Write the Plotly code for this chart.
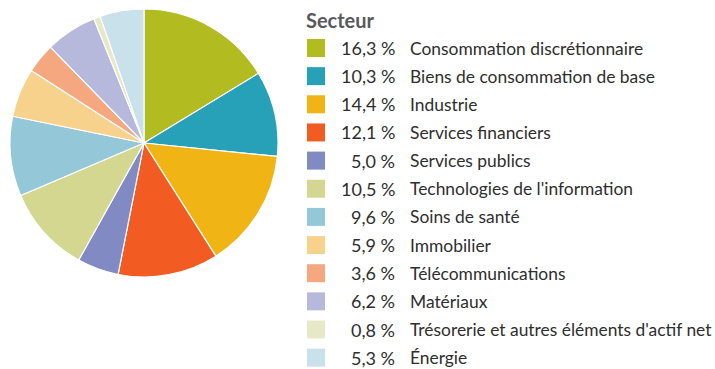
import plotly.graph_objects as go

# Sector allocation (percent of net assets)
sectors = [
    "Consommation discrétionnaire",
    "Biens de consommation de base",
    "Industrie",
    "Services financiers",
    "Services publics",
    "Technologies de l'information",
    "Soins de santé",
    "Immobilier",
    "Télécommunications",
    "Matériaux",
    "Trésorerie et autres éléments d'actif net",
    "Énergie",
]
weights = [16.3, 10.3, 14.4, 12.1, 5.0, 10.5, 9.6, 5.9, 3.6, 6.2, 0.8, 5.3]
colors = [
    "#B2BB20", "#27A1B7", "#F0B414", "#F25C22", "#818AC2", "#D4D78F",
    "#94C8D8", "#F7D28D", "#F5A77F", "#B7B9DC", "#E6E8C6", "#C8E1EA",
]
legend_title = "Secteur"

W, H = 715, 369
FONT = "Lato, Open Sans, sans-serif"
TEXT = "#2E2E2E"


def px(x):
    return x / W


def py(y):
    return 1 - y / H


fig = go.Figure()

# Pie: centre (144, 143), radius 134 px
cx, cy, r = 144, 143, 134
fig.add_trace(go.Pie(
    labels=sectors,
    values=weights,
    sort=False,
    direction="clockwise",
    rotation=0,
    marker=dict(colors=colors, line=dict(color="white", width=1.2)),
    textinfo="none",
    hovertemplate="%{label}<br>%{value:.1f} %<extra></extra>",
    domain=dict(x=[px(cx - r), px(cx + r)], y=[py(cy + r), py(cy - r)]),
    showlegend=False,
))

# Hand-built legend: swatch, right-aligned percentage, label
row0, step = 48, 28.15
swatch_x0, swatch = 307, 18
pct_right, label_left = 397, 408

shapes = []
annotations = [dict(
    x=px(swatch_x0 - 3), y=py(20), xref="paper", yref="paper",
    xanchor="left", yanchor="middle", showarrow=False,
    text=f"<b>{legend_title}</b>",
    font=dict(family=FONT, size=20, color="#58595B"),
)]
for i, (name, val, col) in enumerate(zip(sectors, weights, colors)):
    yc = row0 + i * step
    shapes.append(dict(
        type="rect", xref="paper", yref="paper",
        x0=px(swatch_x0), x1=px(swatch_x0 + swatch),
        y0=py(yc + swatch / 2), y1=py(yc - swatch / 2),
        fillcolor=col, line=dict(width=0),
    ))
    annotations.append(dict(
        x=px(pct_right), y=py(yc), xref="paper", yref="paper",
        xanchor="right", yanchor="middle", showarrow=False,
        text=f"{val:.1f}".replace(".", ",") + " %",
        font=dict(family=FONT, size=18, color=TEXT),
    ))
    annotations.append(dict(
        x=px(label_left), y=py(yc), xref="paper", yref="paper",
        xanchor="left", yanchor="middle", showarrow=False,
        text=name,
        font=dict(family=FONT, size=17.4, color=TEXT),
    ))

fig.update_layout(
    width=W, height=H,
    margin=dict(l=0, r=0, t=0, b=0),
    paper_bgcolor="white", plot_bgcolor="white",
    shapes=shapes, annotations=annotations,
)

fig.write_html("out.html")
